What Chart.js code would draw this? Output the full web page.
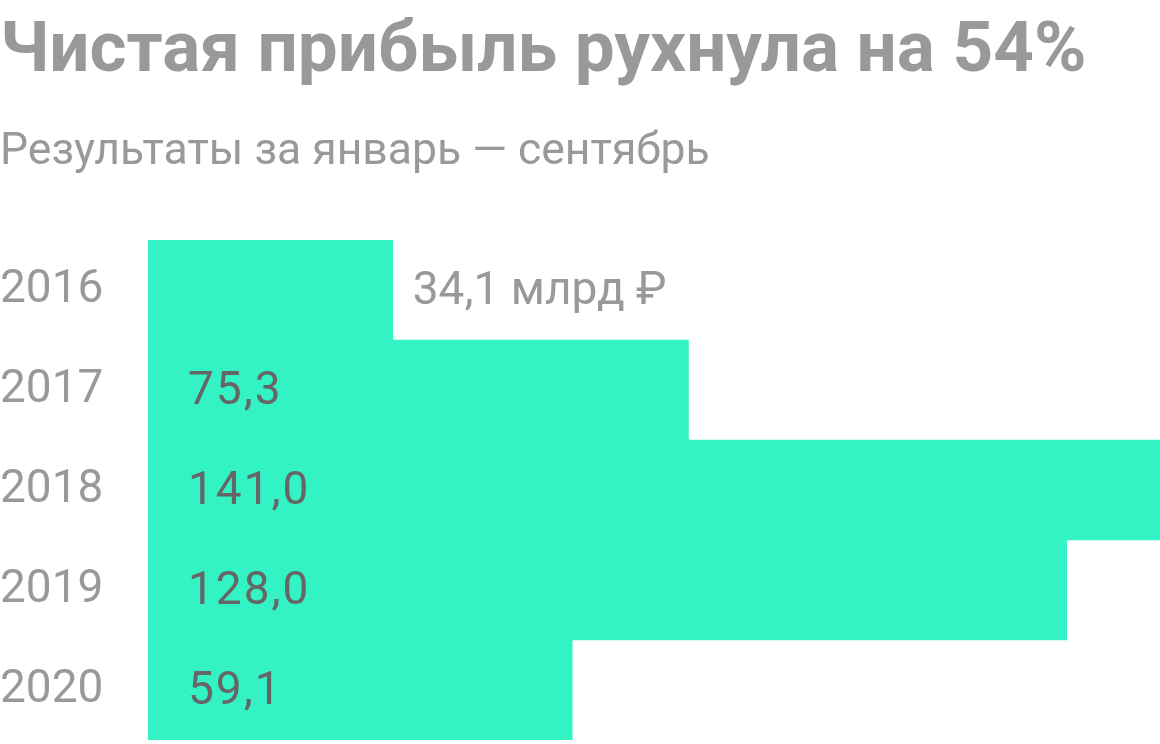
<!DOCTYPE html>
<html>
<head>
<meta charset="utf-8">
<script src="https://cdn.jsdelivr.net/npm/chart.js@4"></script>
<style>
  html, body { margin: 0; padding: 0; background: #fff; }
  #wrap { width: 1160px; height: 744px; }
</style>
</head>
<body>
<div id="wrap"><canvas id="myChart"></canvas></div>
<script>
const years = ['2016', '2017', '2018', '2019', '2020'];
const profit = [34.1, 75.3, 141.0, 128.0, 59.1];
const profitLabels = ['34,1 млрд ₽', '75,3', '141,0', '128,0', '59,1'];

const ctx = document.getElementById('myChart');

// подписи значений: первая справа от бара, остальные внутри
const valueLabels = {
  id: 'valueLabels',
  afterDatasetsDraw(chart) {
    const c = chart.ctx;
    const meta = chart.getDatasetMeta(0);
    c.save();
    c.font = '46px Roboto';
    c.textBaseline = 'middle';
    c.textAlign = 'left';
    meta.data.forEach((bar, i) => {
      if (i === 0) {
        c.letterSpacing = '0px';
        c.fillStyle = '#999999';
        c.fillText(profitLabels[i], bar.x + 20, bar.y + 2);
      } else {
        c.letterSpacing = '2px';
        c.fillStyle = '#666666';
        c.fillText(profitLabels[i], bar.base + 40, bar.y + 2);
      }
    });
    c.restore();
  }
};

new Chart(ctx, {
  type: 'bar',
  data: {
    labels: years,
    datasets: [{
      data: profit,
      backgroundColor: '#33F2C4',
      borderWidth: 0,
      categoryPercentage: 1,
      barPercentage: 1
    }]
  },
  options: {
    indexAxis: 'y',
    responsive: true,
    maintainAspectRatio: false,
    animation: false,
    layout: { padding: { top: 0, bottom: 4, left: 0, right: 0 } },
    plugins: {
      legend: { display: false },
      tooltip: { enabled: false },
      title: {
        display: true,
        text: 'Чистая прибыль рухнула на 54%',
        align: 'start',
        color: '#999999',
        font: { family: 'Roboto', size: 71, weight: 'bold', lineHeight: 1 },
        padding: { top: 17.5, bottom: 42.25 }
      },
      subtitle: {
        display: true,
        text: 'Результаты за январь — сентябрь',
        align: 'start',
        color: '#999999',
        font: { family: 'Roboto', size: 44.5, weight: 'normal', lineHeight: 1 },
        padding: { top: 0, bottom: 64.75 }
      }
    },
    scales: {
      x: {
        display: false,
        min: 0,
        max: 141
      },
      y: {
        grid: { display: false, drawTicks: false },
        border: { display: false },
        afterFit(scale) {
          scale.width = 148;
          scale.paddingTop = 0;
          scale.paddingBottom = 0;
        },
        ticks: {
          crossAlign: 'far',
          color: '#999999',
          padding: 0,
          font: { family: 'Roboto', size: 46 }
        }
      }
    }
  },
  plugins: [valueLabels]
});
</script>
</body>
</html>
